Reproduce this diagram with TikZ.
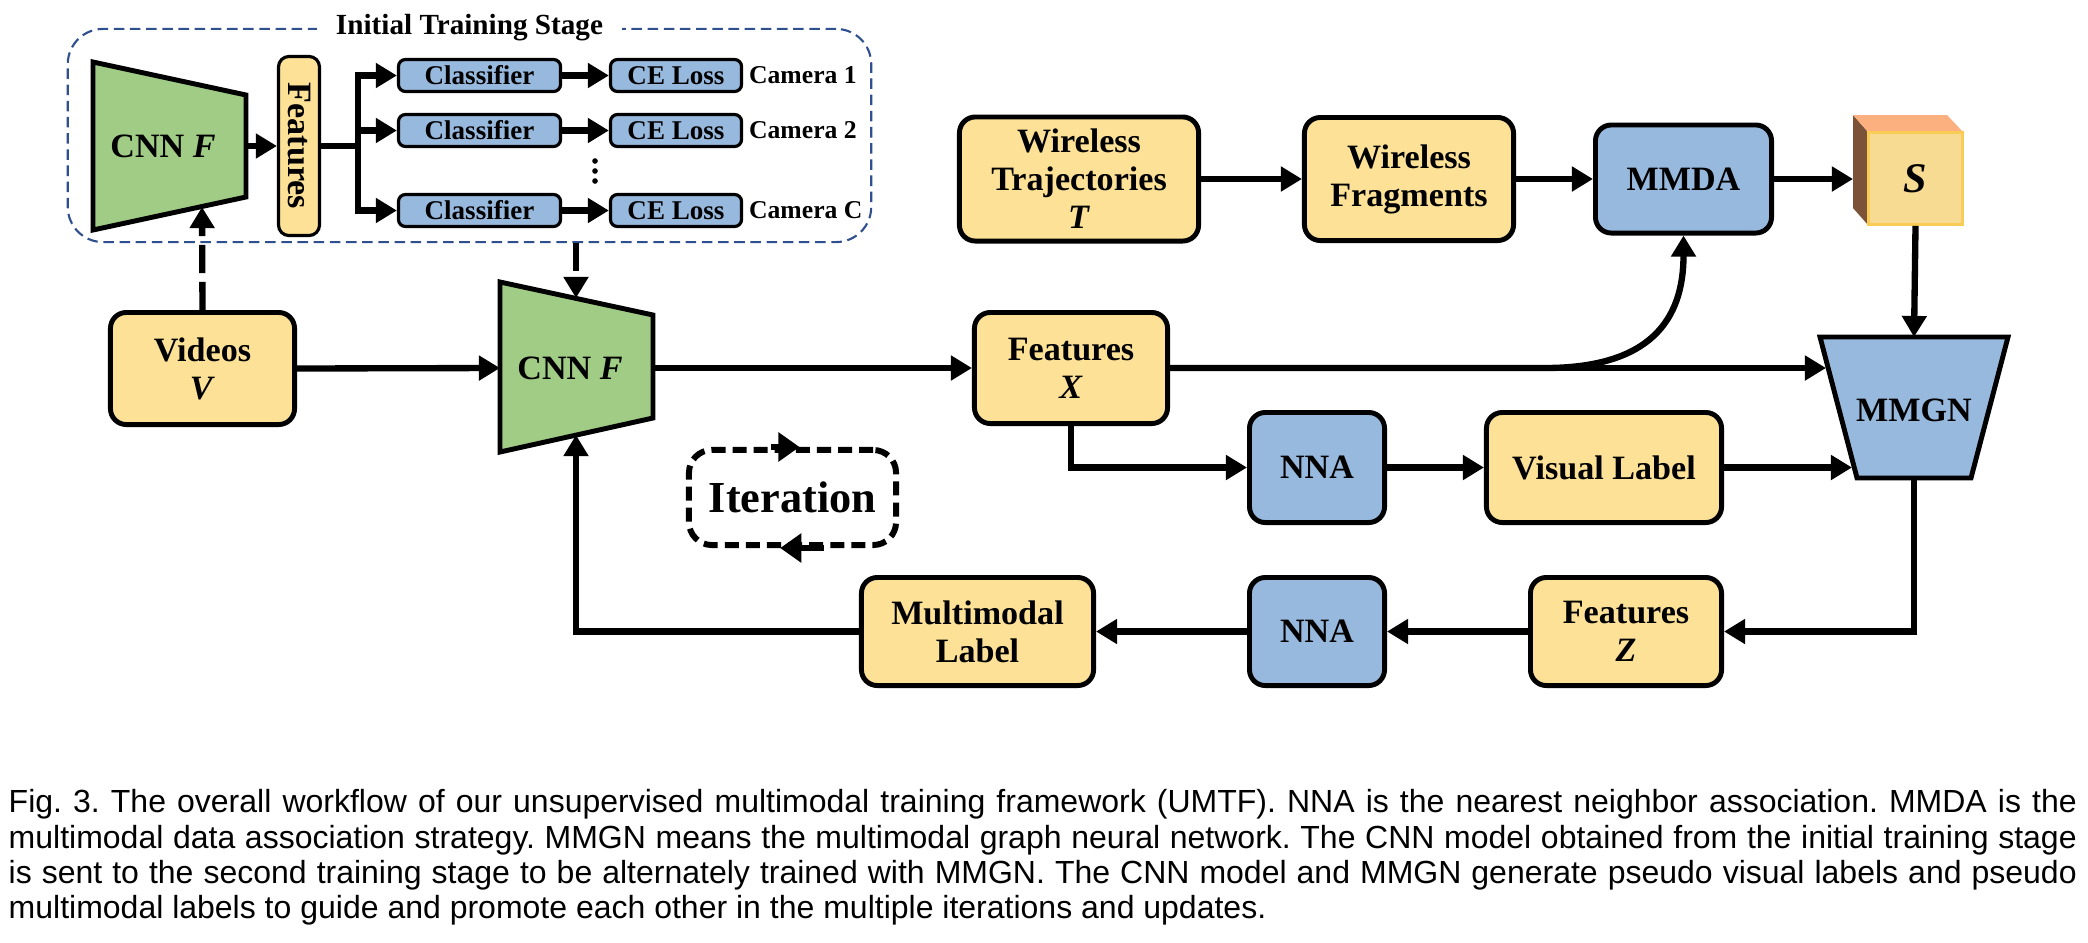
\documentclass[tikz,border=0pt]{standalone}
\usepackage{fontspec}
\setmainfont{Liberation Serif}
\newfontfamily\captionfont{Liberation Sans}
\usetikzlibrary{arrows.meta}
\usetikzlibrary{positioning}
\tikzset{>={Triangle[length=6pt,width=6.8pt]}}

\definecolor{dataYellow}{HTML}{FCE197}
\definecolor{opBlue}{HTML}{98B9DE}
\definecolor{cnnGreen}{HTML}{A1CC85}
\definecolor{stageBlue}{HTML}{2F4F8F}
\definecolor{cubeTop}{HTML}{FDB07F}
\definecolor{cubeSide}{HTML}{7A5339}
\definecolor{cubeFront}{HTML}{F8DB93}
\definecolor{cubeEdge}{HTML}{F9CC56}

\tikzset{
  bigbox/.style={draw, line width=1.4pt, rounded corners=4.5pt, align=center,
    inner sep=1pt, font=\fontsize{9.7}{10.8}\selectfont\bfseries},
  datbox/.style={bigbox, fill=dataYellow},
  opbox/.style={bigbox, fill=opBlue},
  smallbox/.style={draw, line width=0.9pt, rounded corners=2pt, fill=opBlue,
    minimum height=0.32cm, inner sep=0pt, font=\fontsize{7.7}{9}\selectfont\bfseries},
  camlabel/.style={inner sep=1.5pt, font=\fontsize{7.3}{9}\selectfont\bfseries},
  trapez/.style={draw, line width=1.4pt},
  trapeztext/.style={font=\fontsize{9.7}{11}\selectfont\bfseries},
  flow/.style={->, line width=1.8pt},
  flowline/.style={line width=1.8pt},
  dashflow/.style={->, line width=1.8pt, dash pattern=on 8pt off 2.5pt},
  iterarrow/.style={-{Triangle[length=6pt,width=8pt]}, line width=1.8pt},
}

\begin{document}
\frenchspacing
\begin{tikzpicture}[x=0.01cm, y=-0.01cm]
  \useasboundingbox (0,0) rectangle (2088,942);

  % initial training stage
  \node[draw=stageBlue, line width=0.6pt, dash pattern=on 3pt off 1.6pt,
    rounded corners=10pt, minimum width=8.03cm, minimum height=2.13cm] (stage) at (469.5,135.5) {};
  \node[fill=white, inner xsep=5.5pt, inner ysep=1pt, font=\fontsize{8.3}{10}\selectfont\bfseries]
    (stagetitle) at (stage.north) {Initial Training Stage};
  \draw[trapez, fill=cnnGreen] (93,62) -- (246,95) -- (246,197) -- (93,230) -- cycle;
  \node[trapeztext] (cnnA) at (163,146) {CNN \textit{F}};
  \coordinate (cnnAout) at (246,146);
  \coordinate (cnnAin) at (202,207);
  \node[draw, line width=0.9pt, rounded corners=3pt, fill=dataYellow, rotate=-90,
    minimum width=1.79cm, minimum height=0.41cm, inner sep=0pt,
    font=\fontsize{9.7}{11}\selectfont\bfseries] (featV) at (299,146) {Features};
  \coordinate (split) at (358,146);
  \node[smallbox, minimum width=1.62cm] (cls1) at (479.5,75.5) {Classifier};
  \node[smallbox, minimum width=1.62cm] (cls2) at (479.5,130.5) {Classifier};
  \node[smallbox, minimum width=1.62cm] (cls3) at (479.5,210.5) {Classifier};
  \node[smallbox, minimum width=1.31cm] (ce1) at (676,75.5) {CE Loss};
  \node[smallbox, minimum width=1.31cm] (ce2) at (676,130.5) {CE Loss};
  \node[smallbox, minimum width=1.31cm] (ce3) at (676,210.5) {CE Loss};
  \node[camlabel, right=0pt of ce1] (cam1) {Camera 1};
  \node[camlabel, right=0pt of ce2] (cam2) {Camera 2};
  \node[camlabel, right=0pt of ce3] (cam3) {Camera C};
  \fill (595,161) circle (0.8pt) (595,171) circle (0.8pt) (595,181) circle (0.8pt);

  % second stage
  \node[datbox, minimum width=1.84cm, minimum height=1.12cm] (videos) at (202.5,368.5) {Videos\\\textit{V}};
  \draw[trapez, fill=cnnGreen] (500,282) -- (653,315) -- (653,418) -- (500,452) -- cycle;
  \node[trapeztext] (cnnB) at (570,368) {CNN \textit{F}};
  \coordinate (cnnBin) at (500,368);
  \coordinate (cnnBout) at (653,368);
  \coordinate (cnnBtop) at (576,298);
  \coordinate (cnnBbot) at (576,435);
  \node[datbox, minimum width=1.93cm, minimum height=1.11cm] (featX) at (1071,368) {Features\\\textit{X}};
  \coordinate (xsplit) at (1545,368);

  \node[datbox, minimum width=2.39cm, minimum height=1.24cm] (trajT) at (1079,179) {Wireless\\Trajectories\\\textit{T}};
  \node[datbox, minimum width=2.09cm, minimum height=1.23cm] (fragW) at (1409,179) {Wireless\\Fragments};
  \node[opbox, minimum width=1.76cm, minimum height=1.08cm] (mmda) at (1683.5,179) {MMDA};

  % similarity cube
  \fill[cubeSide] (1868,132) -- (1853,115) -- (1853,208) -- (1868,225) -- cycle;
  \fill[cubeTop] (1868,132) -- (1853,115) -- (1947,115) -- (1963,132) -- cycle;
  \node[draw=cubeEdge, line width=0.8pt, fill=cubeFront, minimum width=0.94cm, minimum height=0.92cm,
    inner sep=0pt, font=\fontsize{12}{14}\selectfont\bfseries\itshape] (cubeS) at (1915.5,178.5) {S};
  \coordinate (cubeIn) at (1853,179);

  % graph network
  \draw[trapez, fill=opBlue] (1820,337) -- (2008,337) -- (1971,478) -- (1857,478) -- cycle;
  \node[trapeztext] (mmgn) at (1914,410) {MMGN};
  \coordinate (mmgnTop) at (1914,337);
  \coordinate (mmgnX) at (1826,368);
  \coordinate (mmgnVis) at (1852,467.5);
  \coordinate (mmgnBot) at (1914,478);

  \node[opbox, minimum width=1.35cm, minimum height=1.10cm] (nna1) at (1317,467.5) {NNA};
  \node[datbox, minimum width=2.35cm, minimum height=1.10cm] (visual) at (1604,467.5) {Visual Label};
  \node[opbox, minimum width=1.35cm, minimum height=1.08cm] (nna2) at (1317,631.5) {NNA};
  \node[datbox, minimum width=1.91cm, minimum height=1.08cm] (featZ) at (1626,631.5) {Features\\\textit{Z}};
  \node[datbox, minimum width=2.32cm, minimum height=1.08cm] (mlabel) at (977.5,631.5) {Multimodal\\Label};

  % iteration
  \node[draw, line width=1.7pt, dash pattern=on 4pt off 2pt, rounded corners=6.5pt,
    minimum width=2.07cm, minimum height=0.95cm, font=\fontsize{12.6}{14}\selectfont\bfseries]
    (iter) at (792.5,497.5) {Iteration};
  \draw[iterarrow] ([xshift=-6pt]iter.north) -- ([xshift=2pt]iter.north);
  \draw[iterarrow] ([xshift=9pt]iter.south) -- ([xshift=-3.5pt]iter.south);

  % connectors
  \draw[flow] (cnnAout) -- (featV.south);
  \draw[flowline] (featV.north) -- (split);
  \draw[flow] (split) |- (cls1.west);
  \draw[flow] (split) |- (cls2.west);
  \draw[flow] (split) |- (cls3.west);
  \draw[flow] (cls1) -- (ce1);
  \draw[flow] (cls2) -- (ce2);
  \draw[flow] (cls3) -- (ce3);
  \draw[dashflow] (videos.north) -- (cnnAin);
  \draw[dashflow] (stage.south -| cnnBtop) -- (cnnBtop);
  \draw[flow] (videos.east) -- (cnnBin);
  \draw[flow] (cnnBout) -- (featX.west);
  \draw[flow] (trajT) -- (fragW);
  \draw[flow] (fragW) -- (mmda);
  \draw[flow] (mmda.east) -- (cubeIn);
  \draw[flow] (cubeS.south) -- (mmgnTop);
  \draw[flow] (featX.east) -- (mmgnX);
  \draw[flow] (featX.east) -- (xsplit) .. controls (1650,368) and (1683.5,320) .. (mmda.south);
  \draw[flow] (featX.south) |- (nna1.west);
  \draw[flow] (nna1) -- (visual);
  \draw[flow] (visual.east) -- (mmgnVis);
  \draw[flow] (mmgnBot) |- (featZ.east);
  \draw[flow] (featZ) -- (nna2);
  \draw[flow] (nna2) -- (mlabel);
  \draw[flow] (mlabel.west) -| (cnnBbot);

  % caption
  \node[anchor=north west, inner sep=0pt, text width=20.67cm, align=justify,
    font=\captionfont\fontsize{9.1}{10}\selectfont] (caption) at (8,789)
    {Fig.~3. The overall workflow of our unsupervised multimodal training framework (UMTF). NNA is the nearest neighbor association. MMDA is the\linebreak
     multimodal data association strategy. MMGN means the multimodal graph neural network. The CNN model obtained from the initial training stage\linebreak
     is sent to the second training stage to be alternately trained with MMGN. The CNN model and MMGN generate pseudo visual labels and pseudo\linebreak
     multimodal labels to guide and promote each other in the multiple iterations and updates.};
\end{tikzpicture}
\end{document}
